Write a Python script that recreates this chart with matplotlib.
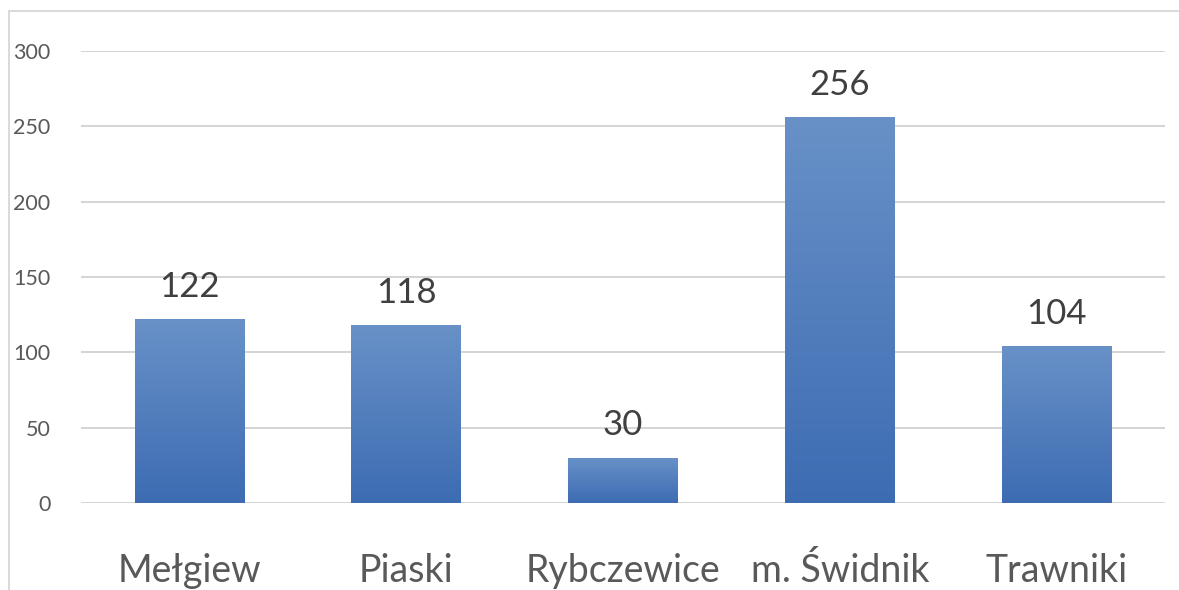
import numpy as np
import matplotlib.pyplot as plt
from matplotlib.colors import LinearSegmentedColormap
from matplotlib.lines import Line2D

categories = ['Mełgiew', 'Piaski', 'Rybczewice', 'm. Świdnik', 'Trawniki']
values = [122, 118, 30, 256, 104]
y_ticks = [0, 50, 100, 150, 200, 250, 300]

plt.rcParams['font.family'] = ['Lato', 'DejaVu Sans']

fig = plt.figure(figsize=(11.79, 5.9), dpi=100)
ax = fig.add_axes([81 / 1179, 87 / 590, (1165 - 81) / 1179, (503 - 51) / 590])

x = np.arange(len(categories))
bars = ax.bar(x, values, width=0.505, color='none', zorder=3)

# vertical gradient per bar, lighter at the top
cmap = LinearSegmentedColormap.from_list('bar', ['#3d6cb3', '#6891c7'])
grad = np.linspace(0, 1, 256).reshape(-1, 1)
for b in bars:
    x0, y0 = b.get_x(), b.get_y()
    im = ax.imshow(grad, cmap=cmap, origin='lower', aspect='auto',
                   extent=[x0, x0 + b.get_width(), y0, y0 + b.get_height()], zorder=3)
    im.set_clip_path(b)

for xi, v in zip(x, values):
    ax.annotate(str(v), (xi, v), xytext=(0, 12), textcoords='offset points',
                ha='center', va='bottom', fontsize=25, color='#404040')

ax.set_xlim(-0.5, len(categories) - 0.5)
ax.set_ylim(0, 300)
ax.set_yticks(y_ticks)
ax.set_xticks(x)
ax.set_xticklabels(categories, fontsize=27, color='#595959')
ax.tick_params(axis='y', labelsize=15.5, colors='#595959', length=0, pad=22)
ax.tick_params(axis='x', length=0, pad=36)
ax.grid(axis='y', color='#d4d4d4', linewidth=1.4, zorder=0)
ax.set_axisbelow(True)
for s in ax.spines.values():
    s.set_visible(False)

# chart area border (top and left visible)
fig.add_artist(Line2D([9 / 1179, 9 / 1179], [0, 1 - 11 / 590], color='#d9d9d9', lw=1.4))
fig.add_artist(Line2D([9 / 1179, 1], [1 - 11 / 590, 1 - 11 / 590], color='#d9d9d9', lw=1.4))

fig.savefig('out.png', dpi=100)
